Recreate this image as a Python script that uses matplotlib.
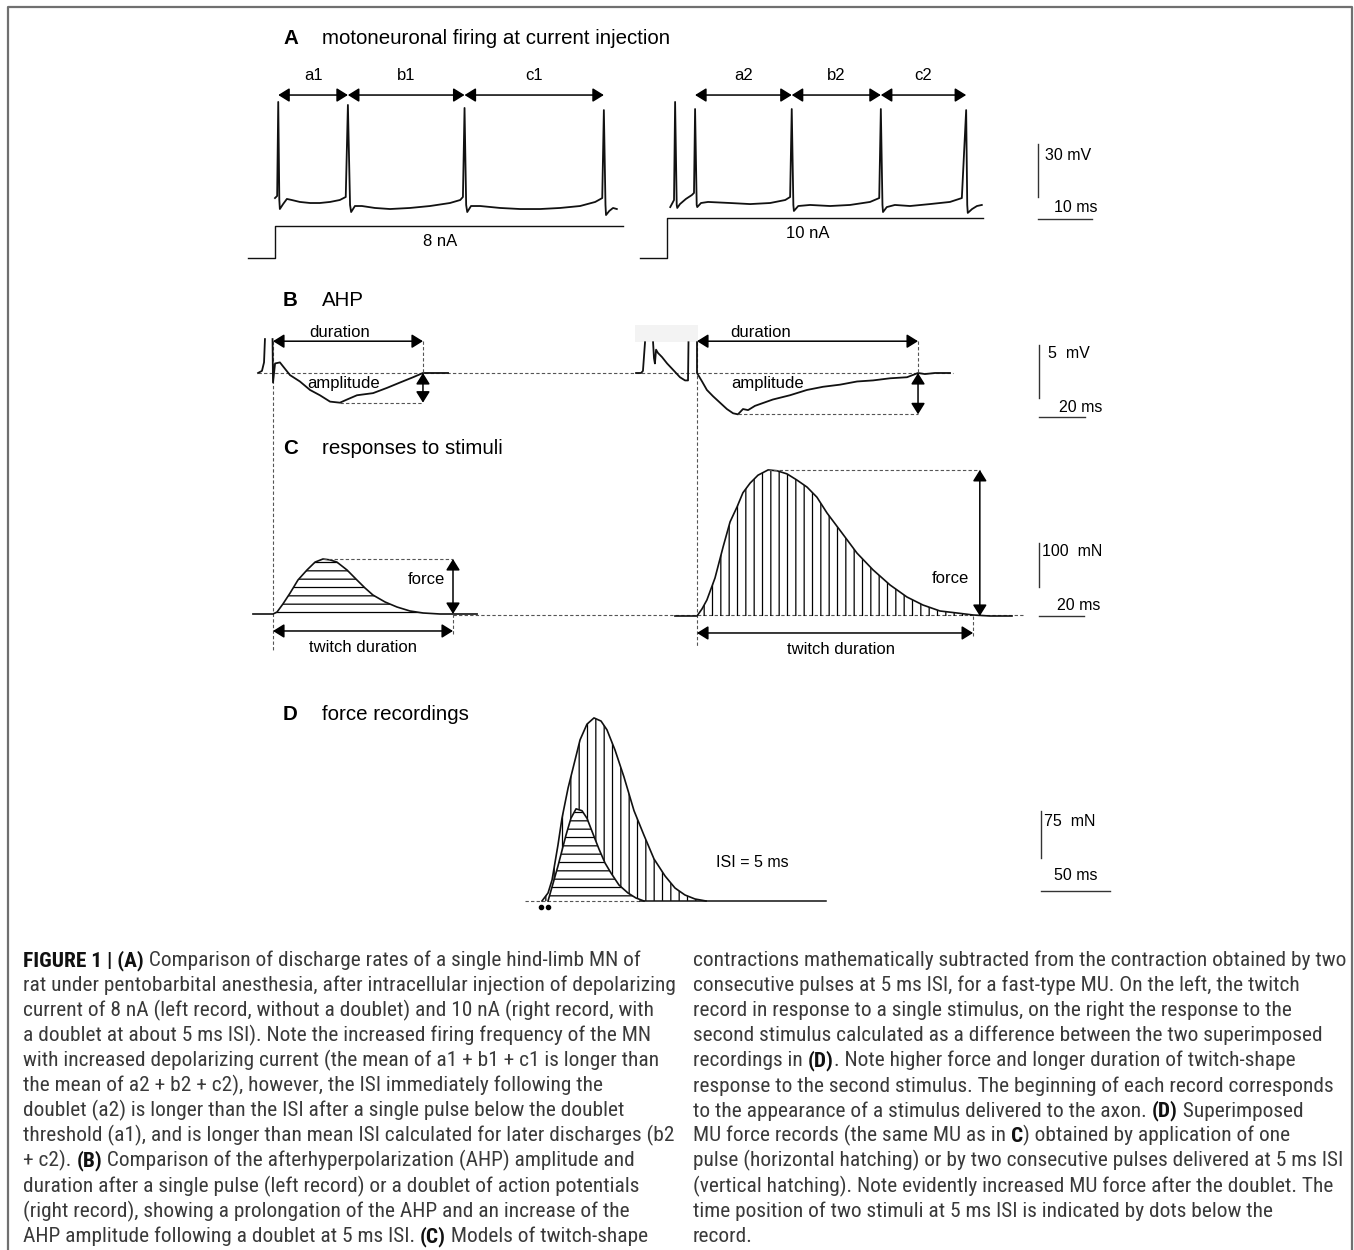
import numpy as np
import matplotlib
matplotlib.use('Agg')
import matplotlib.pyplot as plt
from matplotlib import font_manager
from matplotlib.font_manager import FontProperties
from matplotlib.patches import Rectangle

W, H = 1354, 1250

# ---------------- data ----------------
# A: membrane potential (ms from current onset, mV relative to baseline)
a_left_t = [0, 0.4, 0.6, 0.8, 0.9, 1.5, 2.2, 3.1, 4.6, 6.5, 8.3, 10.2, 12.0, 13.1,
            13.5, 13.9, 14.1, 14.8, 16.1, 18.5, 21.3, 25.0, 28.7, 32.4, 34.3, 34.8,
            35.1, 35.4, 35.6, 36.3, 38.0, 41.7, 45.4, 49.1, 52.8, 56.5, 59.3, 60.6,
            60.9, 61.2, 61.3, 61.9, 62.6, 63.3]
a_left_v = [1.1, 2.3, 55.4, 0, -5.1, -2.3, 0.6, 0, -1.1, -1.7, -1.7, -1.1, 0, 1.7,
            53.7, -2.8, -6.8, -3.4, -3.4, -4.5, -5.1, -4.5, -3.4, -1.7, 0, 1.7,
            52.0, -2.8, -6.8, -3.4, -3.4, -4.5, -5.1, -5.1, -4.5, -3.4, -1.1, 1.1,
            50.8, -2.8, -8.5, -6.2, -4.5, -5.1]
a_right_t = [0.6, 0.9, 1.3, 1.5, 1.8, 1.9, 2.4, 3.5, 4.6, 5.0, 5.2, 5.5, 5.6, 6.3,
             7.6, 11.7, 15.4, 19.1, 21.9, 22.8, 23.1, 23.4, 23.5, 24.3, 26.5, 30.2,
             33.9, 37.6, 39.3, 39.6, 39.9, 40.0, 40.7, 42.2, 45.0, 48.7, 52.4, 54.6,
             55.4, 55.6, 55.7, 56.5, 57.4, 58.3]
a_right_v = [-4.0, -2.3, 0, 55.4, -2.8, -4.5, -2.3, 0.6, 2.8, 4.0, 51.4, -2.8, -4.0,
             -1.7, -1.1, -1.7, -2.3, -1.7, 0, 1.7, 51.4, -2.8, -6.2, -3.4, -2.8,
             -3.4, -2.8, -1.1, 1.1, 51.4, -2.8, -6.8, -4.0, -2.8, -3.4, -2.3, -1.1,
             1.1, 50.8, -2.8, -7.3, -5.1, -3.4, -2.8]
spike_times_left = [0.6, 13.5, 35.1, 60.9]
spike_times_right = [1.5, 5.2, 23.1, 39.6, 55.4]
isi_names_left = ['a1', 'b1', 'c1']
isi_names_right = ['a2', 'b2', 'c2']
current_nA = [8, 10]
current_end_ms = [64.4, 58.5]
current_pre_ms = -5.0

# B: AHP (ms from spike, mV relative to baseline), nan = clipped spike top
ahp_left_t = [-6.5, -4.8, -3.9, -3.5, np.nan, -0.2, 0, 0.9, 3.0, 7.4, 11.7, 16.1,
              20.4, 24.8, 29.1, 32.2, 36.5, 43.5, 49.6, 55.2, 60.9, 65.2, 76.1]
ahp_left_v = [0, 0.2, 1.0, 3.2, np.nan, 3.2, -0.9, 0.9, 1.0, -0.2, -0.8, -1.6,
              -2.1, -2.7, -2.8, -2.5, -2.1, -1.9, -1.4, -0.9, -0.4, 0, 0]
ahp_right_t = [-26.5, -24.3, -23.5, -22.6, np.nan, -19.1, -18.7, -18.3, -17.8, -17.0,
               -15.2, -13.0, -10.4, -7.4, -5.2, -3.9, -3.7, np.nan, 0, 0, 2.2, 4.3,
               7.0, 10.0, 13.0, 15.7, 17.8, 20.0, 22.2, 25.2, 33.0, 40.4, 47.8, 54.8,
               62.2, 69.6, 76.5, 83.9, 91.3, 96.1, 99.1, 103.5, 110.0]
ahp_right_v = [0, 0, 0.2, 2.9, np.nan, 2.9, 1.4, 0.9, 2.2, 1.9, 1.5, 0.9, 0.3, -0.4,
               -0.7, -0.7, 2.9, np.nan, 2.9, 0, -0.8, -1.6, -2.2, -2.8, -3.4, -3.8,
               -3.9, -3.4, -3.5, -3.1, -2.5, -2.1, -1.6, -1.3, -1.1, -0.8, -0.7, -0.5,
               -0.4, 0, -0.1, 0, 0]
ahp_duration = [65.2, 96.1]
ahp_amplitude = [2.8, 3.9]
ahp_trough_t = [29.1, 17.8]

# C: twitch models (ms, mN)
tw_left_t = [-8.9, 0, 1.8, 4.4, 7.6, 11.1, 15.1, 18.7, 22.2, 25.3, 28.4, 32.9, 37.3,
             40.9, 44.4, 49.8, 55.1, 60.9, 66.7, 74.2, 80.0, 90.7]
tw_left_f = [0, 0, 4.5, 22.7, 47.7, 77.3, 100, 118, 125, 123, 118, 100, 77.3, 59.1,
             43.2, 27.3, 15.9, 6.8, 2.3, 0, 0, 0]
tw_right_t = [-9.8, 0, 2.2, 4.4, 8.0, 11.6, 14.7, 17.8, 20.4, 23.6, 27.1, 31.6, 35.6,
              40.0, 44.4, 48.9, 53.3, 57.8, 64.4, 71.1, 78.2, 85.8, 93.3, 100.4, 108.0,
              115.6, 122.7, 130.2, 140.0]
tw_right_f = [0, 0, 15.9, 36.4, 86.4, 157, 214, 248, 280, 302, 320, 332, 330, 323,
              309, 293, 270, 234, 189, 143, 105, 70.5, 43.2, 25, 11.4, 6.8, 2.3, 0, 0]
twitch_force = [125, 332]
twitch_peak_t = [22.2, 31.6]
twitch_duration = [80.0, 122.7]

# D: superimposed force records (ms from first stimulus, mN)
d_single_t = [5.1, 12.3, 18.1, 21.7, 25.4, 29.7, 33.3, 37.7, 42.0, 46.4, 50.7, 56.5,
              63.0, 68.8, 74.6]
d_single_f = [0, 55.8, 105, 132, 147, 144, 132, 107, 82.9, 60.6, 44.7, 25.5, 12.8,
              4.8, 0]
d_double_t = [0.7, 5.1, 8.0, 12.3, 15.2, 19.6, 23.9, 28.3, 33.3, 38.4, 43.5, 47.8,
              53.6, 60.1, 67.4, 74.6, 81.9, 89.9, 97.1, 104.3, 111.6, 119.6]
d_double_f = [0, 12.8, 33.5, 89.3, 132, 180, 218, 257, 282, 292, 287, 273, 241, 198,
              144, 105, 67, 39.9, 20.7, 9.6, 3.2, 0]
stim_times = [0, 5]
d_record_end = 206.5

# scale bars (vertical value, unit, horizontal value, unit)
scale_vals = [(30, 'mV', 10, 'ms'), (5, 'mV', 20, 'ms'), (100, 'mN', 20, 'ms'),
              (75, 'mN', 50, 'ms')]

caption_left = [
    [("FIGURE 1 | (A)", True), (" Comparison of discharge rates of a single hind-limb MN of", False)],
    [("rat under pentobarbital anesthesia, after intracellular injection of depolarizing", False)],
    [("current of 8 nA (left record, without a doublet) and 10 nA (right record, with", False)],
    [("a doublet at about 5 ms ISI). Note the increased firing frequency of the MN", False)],
    [("with increased depolarizing current (the mean of a1 + b1 + c1 is longer than", False)],
    [("the mean of a2 + b2 + c2), however, the ISI immediately following the", False)],
    [("doublet (a2) is longer than the ISI after a single pulse below the doublet", False)],
    [("threshold (a1), and is longer than mean ISI calculated for later discharges (b2", False)],
    [("+ c2). ", False), ("(B)", True), (" Comparison of the afterhyperpolarization (AHP) amplitude and", False)],
    [("duration after a single pulse (left record) or a doublet of action potentials", False)],
    [("(right record), showing a prolongation of the AHP and an increase of the", False)],
    [("AHP amplitude following a doublet at 5 ms ISI. ", False), ("(C)", True), (" Models of twitch-shape", False)],
]
caption_right = [
    [("contractions mathematically subtracted from the contraction obtained by two", False)],
    [("consecutive pulses at 5 ms ISI, for a fast-type MU. On the left, the twitch", False)],
    [("record in response to a single stimulus, on the right the response to the", False)],
    [("second stimulus calculated as a difference between the two superimposed", False)],
    [("recordings in ", False), ("(D)", True), (". Note higher force and longer duration of twitch-shape", False)],
    [("response to the second stimulus. The beginning of each record corresponds", False)],
    [("to the appearance of a stimulus delivered to the axon. ", False), ("(D)", True), (" Superimposed", False)],
    [("MU force records (the same MU as in ", False), ("C", True), (") obtained by application of one", False)],
    [("pulse (horizontal hatching) or by two consecutive pulses delivered at 5 ms ISI", False)],
    [("(vertical hatching). Note evidently increased MU force after the doublet. The", False)],
    [("time position of two stimuli at 5 ms ISI is indicated by dots below the", False)],
    [("record.", False)],
]

# ---------------- figure ----------------
plt.rcParams['font.family'] = ['Liberation Sans', 'DejaVu Sans']
plt.rcParams['hatch.linewidth'] = 0.9
plt.rcParams['hatch.color'] = 'black'

fig = plt.figure(figsize=(W / 100, H / 100), dpi=100)
fig.patch.set_facecolor('white')

base = fig.add_axes([0, 0, 1, 1])
base.set_xlim(0, W)
base.set_ylim(H, 0)
base.set_axis_off()


def unit_ax(ox, oy, sx, sy):
    # full-figure axes with data origin at pixel (ox, oy) and sx, sy px per unit
    ax = fig.add_axes([0, 0, 1, 1])
    ax.set_xlim(-ox / sx, (W - ox) / sx)
    ax.set_ylim(-(H - oy) / sy, oy / sy)
    ax.set_axis_off()
    return ax


def darrow(ax, x0, y0, x1, y1):
    ax.annotate('', xy=(x1, y1), xytext=(x0, y0),
                arrowprops=dict(arrowstyle='<|-|>,head_length=0.45,head_width=0.28',
                                mutation_scale=15, color='k', lw=1.1,
                                shrinkA=0, shrinkB=0))


TRACE = dict(color='#111111', lw=1.3, solid_joinstyle='round')
DASH = dict(color='#555555', lw=0.8, linestyle=(0, (3, 2)))
LBL = dict(fontsize=12, color='black', ha='center', va='center')

# border
base.plot([8, 8, 1352, 1352], [H, 7, 7, H], color='#707070', lw=1.6)

# panel titles
for letter, title, y in [('A', 'motoneuronal firing at current injection', 38),
                         ('B', 'AHP', 301), ('C', 'responses to stimuli', 448),
                         ('D', 'force recordings', 715)]:
    base.text(283, y, letter, fontsize=14.8, fontweight='bold', va='center')
    base.text(322, y, title, fontsize=14.8, va='center')

# ---------------- A ----------------
A_SX, A_SY, I_SY = 5.4, 1.77, 4.0
for ox, t, v, spikes, names in [(275, a_left_t, a_left_v, spike_times_left, isi_names_left),
                                (667, a_right_t, a_right_v, spike_times_right, isi_names_right)]:
    ax = unit_ax(ox, 200, A_SX, A_SY)
    ax.plot(t, v, **TRACE)
    s = spikes[-4:]
    for i, nm in enumerate(names):
        darrow(ax, s[i], 59.3, s[i + 1], 59.3)
        ax.text((s[i] + s[i + 1]) / 2, 70.5, nm, **LBL)

for ox, amp, end, lab in [(275, current_nA[0], current_end_ms[0], '8 nA'),
                          (667, current_nA[1], current_end_ms[1], '10 nA')]:
    ax = unit_ax(ox, 258, A_SX, I_SY)
    ax.plot([current_pre_ms, 0, 0, end], [0, 0, amp, amp], color='#111111', lw=1.0)
    ax.text(30.5 if amp == 8 else 26.0, amp - 4, lab, **LBL)

# ---------------- B ----------------
B_SX, B_SY = 2.3, 10.6
base.add_patch(Rectangle((635, 325), 63, 17, facecolor='#f3f3f3', lw=0))
base.plot([258, 953], [373, 373], **DASH)
for k, (ox, t, v) in enumerate([(273, ahp_left_t, ahp_left_v), (697, ahp_right_t, ahp_right_v)]):
    ax = unit_ax(ox, 373, B_SX, B_SY)
    dur, amp, tr = ahp_duration[k], ahp_amplitude[k], ahp_trough_t[k]
    ax.plot(t, v, **TRACE)
    darrow(ax, 0, 3.0, dur, 3.0)
    ax.plot([dur, dur], [3.0, 0], **DASH)
    ax.plot([tr, dur], [-amp, -amp], **DASH)
    darrow(ax, dur, 0, dur, -amp)
    ax.text(29 if k == 0 else 27.5, 3.8, 'duration', **LBL)
    ax.text(30.5, -1.0, 'amplitude', **LBL)

# ---------------- C ----------------
C_SX, C_SY = 2.25, 0.44
base.plot([273, 273], [341, 650], **DASH)
base.plot([697, 697], [342, 647], **DASH)
base.plot([453, 1023], [615, 615], **DASH)
for k, (ox, oy, t, f, hatch) in enumerate([(273, 614, tw_left_t, tw_left_f, '--'),
                                           (697, 616, tw_right_t, tw_right_f, '||')]):
    ax = unit_ax(ox, oy, C_SX, C_SY)
    pk, tp, dur = twitch_force[k], twitch_peak_t[k], twitch_duration[k]
    xf = dur + (0 if k == 0 else 3)
    ax.fill_between(t, 0, f, facecolor='none', edgecolor='k', hatch=hatch, lw=0)
    ax.plot(t, f, color='#111111', lw=1.2)
    ax.plot([tp, xf], [pk, pk], **DASH)
    darrow(ax, xf, 0, xf, pk)
    ax.plot([dur, dur], [0, -45], **DASH)
    darrow(ax, 0, -38.6, dur, -38.6)
    ax.text(dur / 2 + (0 if k == 0 else 2.5), -75, 'twitch duration', **LBL)
    ax.text(dur - 12 if k == 0 else dur - 10, 78 if k == 0 else 86, 'force', **LBL)

# ---------------- D ----------------
D_SX, D_SY = 1.38, 0.627
ax = unit_ax(541, 901, D_SX, D_SY)
ax.plot([-11.6, 72], [0, 0], **DASH)
ax.plot([72, d_record_end], [0, 0], color='#111111', lw=1.1)
ax.fill_between(d_double_t, 0, d_double_f, facecolor='white', edgecolor='k', hatch='||', lw=0)
ax.fill_between(d_single_t, 0, d_single_f, facecolor='white', edgecolor='k', hatch='--', lw=0)
ax.plot(d_double_t, d_double_f, color='#111111', lw=1.2)
ax.plot(d_single_t, d_single_f, color='#111111', lw=1.2)
ax.plot(stim_times, [-9.5, -9.5], 'o', color='k', ms=3)
ax.text(127, 61, 'ISI = 5 ms', fontsize=11.5, ha='left', va='center')

# ---------------- scale bars ----------------
bars = [  # (x, y of vertical bar bottom, y of horizontal bar, sx, sy)
    (1038, 197, 219, A_SX, A_SY),
    (1039, 398, 417, B_SX, B_SY),
    (1039, 587, 616, C_SX, C_SY),
    (1041, 858, 891, D_SX, D_SY),
]
vlab_pos = [(1045, 155), (1048, 353), (1042, 552), (1044, 822)]
hlab_pos = [(1098, 208), (1102, 408), (1100, 606), (1097, 876)]
for (x, yv, yh, sx, sy), (vv, vu, hv, hu), vp, hp in zip(bars, scale_vals, vlab_pos, hlab_pos):
    axv = unit_ax(x, yv, sx, sy)
    axv.plot([0, 0], [0, vv], color='#333333', lw=1.0)
    axh = unit_ax(x, yh, sx, sy)
    axh.plot([0, hv], [0, 0], color='#333333', lw=1.0)
    gap = '  ' if vu == 'mN' or vv == 5 else ' '
    base.text(vp[0], vp[1], f'{vv}{gap}{vu}', fontsize=11.5, ha='left', va='center')
    base.text(hp[0], hp[1], f'{hv} {hu}', fontsize=11.5, ha='right', va='center')

# ---------------- caption ----------------
# a narrow face looks closer to the journal's condensed caption font
ttf = font_manager.fontManager.ttflist


def pick_font(weight):
    prefs = ['Liberation Sans Narrow', 'Arial Narrow', 'Roboto Condensed',
             'Open Sans Condensed', 'Noto Sans', 'Open Sans', 'Roboto']
    for nm in prefs:
        for f in ttf:
            if f.name != nm or f.style != 'normal':
                continue
            if not ('Narrow' in nm or 'Condensed' in nm
                    or f.stretch in ('condensed', 'semi-condensed')):
                continue
            w = f.weight if isinstance(f.weight, int) else font_manager.weight_dict.get(f.weight, 400)
            if abs(w - weight) <= 100:
                return FontProperties(fname=f.fname)
    return FontProperties(family='Liberation Sans',
                          weight='bold' if weight >= 600 else 'normal')


fp_reg = pick_font(400)
fp_bold = pick_font(700)
renderer = fig.canvas.get_renderer()


def seg_text(x, y, txt, bold, size, **kw):
    fp = (fp_bold if bold else fp_reg).copy()
    fp.set_size(size)
    return base.text(x, y, txt, fontproperties=fp, **kw)


def line_width(segs, size):
    w = 0
    for txt, bold in segs:
        t = seg_text(0, 0, txt, bold, size)
        w += t.get_window_extent(renderer).width
        t.remove()
    return w


size0 = 13.0
wl = max(line_width(s, size0) for s in caption_left)
wr = max(line_width(s, size0) for s in caption_right)
cap_size = size0 * min(649 / wl, 653 / wr)

for x0, lines in [(23, caption_left), (693, caption_right)]:
    for i, segs in enumerate(lines):
        x = x0
        y = 966 + i * 25.1
        for txt, bold in segs:
            t = seg_text(x, y, txt, bold, cap_size,
                         color='#111111' if bold else '#3a3a3a', va='baseline')
            x += t.get_window_extent(renderer).width

fig.savefig('out.png', dpi=100)
